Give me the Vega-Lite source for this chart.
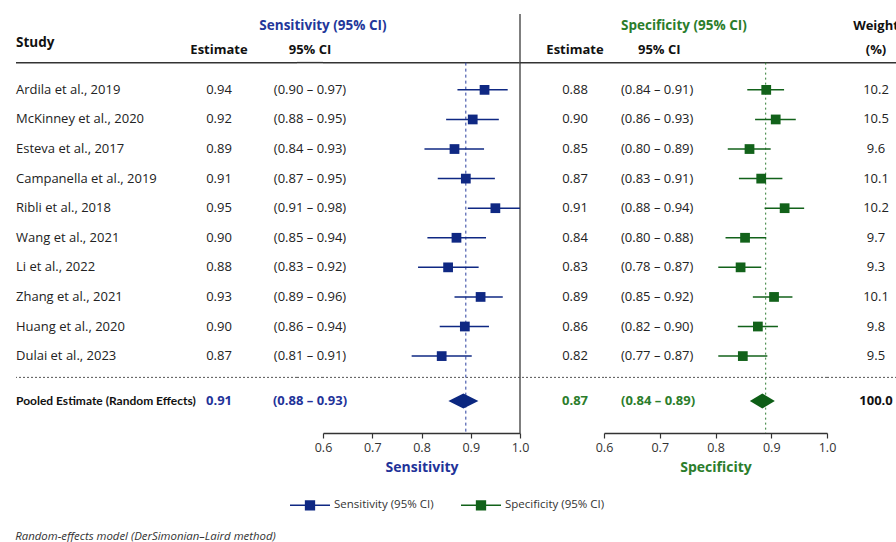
{
"$schema": "https://vega.github.io/schema/vega-lite/v6.json",
"padding": {"left": 15, "top": 13, "right": 0, "bottom": 0},
"spacing": 0,
"bounds": "flush",
"title": {"text": "Random-effects model (DerSimonian–Laird method)", "orient": "bottom", "anchor": "start", "fontSize": 11.4, "fontStyle": "italic", "fontWeight": "normal", "color": "#333", "offset": 18},
"datasets": {
"rows": [
{"study": "Ardila et al., 2019", "row": 1, "pooled": false, "sens": "0.94", "sensci": "(0.90 – 0.97)", "spec": "0.88", "specci": "(0.84 – 0.91)", "weight": "10.2", "s_pt": 0.928, "s_lo": 0.873, "s_hi": 0.975, "p_pt": 0.891, "p_lo": 0.857, "p_hi": 0.923},
{"study": "McKinney et al., 2020", "row": 2, "pooled": false, "sens": "0.92", "sensci": "(0.88 – 0.95)", "spec": "0.90", "specci": "(0.86 – 0.93)", "weight": "10.5", "s_pt": 0.904, "s_lo": 0.85, "s_hi": 0.957, "p_pt": 0.908, "p_lo": 0.871, "p_hi": 0.944},
{"study": "Esteva et al., 2017", "row": 3, "pooled": false, "sens": "0.89", "sensci": "(0.84 – 0.93)", "spec": "0.85", "specci": "(0.80 – 0.89)", "weight": "9.6", "s_pt": 0.867, "s_lo": 0.806, "s_hi": 0.927, "p_pt": 0.861, "p_lo": 0.822, "p_hi": 0.899},
{"study": "Campanella et al., 2019", "row": 4, "pooled": false, "sens": "0.91", "sensci": "(0.87 – 0.95)", "spec": "0.87", "specci": "(0.83 – 0.91)", "weight": "10.1", "s_pt": 0.89, "s_lo": 0.833, "s_hi": 0.949, "p_pt": 0.882, "p_lo": 0.842, "p_hi": 0.92},
{"study": "Ribli et al., 2018", "row": 5, "pooled": false, "sens": "0.95", "sensci": "(0.91 – 0.98)", "spec": "0.91", "specci": "(0.88 – 0.94)", "weight": "10.2", "s_pt": 0.95, "s_lo": 0.894, "s_hi": 1.0, "p_pt": 0.924, "p_lo": 0.888, "p_hi": 0.959},
{"study": "Wang et al., 2021", "row": 6, "pooled": false, "sens": "0.90", "sensci": "(0.85 – 0.94)", "spec": "0.84", "specci": "(0.80 – 0.88)", "weight": "9.7", "s_pt": 0.871, "s_lo": 0.812, "s_hi": 0.931, "p_pt": 0.853, "p_lo": 0.818, "p_hi": 0.891},
{"study": "Li et al., 2022", "row": 7, "pooled": false, "sens": "0.88", "sensci": "(0.83 – 0.92)", "spec": "0.83", "specci": "(0.78 – 0.87)", "weight": "9.3", "s_pt": 0.854, "s_lo": 0.793, "s_hi": 0.916, "p_pt": 0.845, "p_lo": 0.805, "p_hi": 0.882},
{"study": "Zhang et al., 2021", "row": 8, "pooled": false, "sens": "0.93", "sensci": "(0.89 – 0.96)", "spec": "0.89", "specci": "(0.85 – 0.92)", "weight": "10.1", "s_pt": 0.92, "s_lo": 0.867, "s_hi": 0.965, "p_pt": 0.905, "p_lo": 0.867, "p_hi": 0.938},
{"study": "Huang et al., 2020", "row": 9, "pooled": false, "sens": "0.90", "sensci": "(0.86 – 0.94)", "spec": "0.86", "specci": "(0.82 – 0.90)", "weight": "9.8", "s_pt": 0.888, "s_lo": 0.837, "s_hi": 0.937, "p_pt": 0.876, "p_lo": 0.84, "p_hi": 0.912},
{"study": "Dulai et al., 2023", "row": 10, "pooled": false, "sens": "0.87", "sensci": "(0.81 – 0.91)", "spec": "0.82", "specci": "(0.77 – 0.87)", "weight": "9.5", "s_pt": 0.841, "s_lo": 0.78, "s_hi": 0.902, "p_pt": 0.849, "p_lo": 0.805, "p_hi": 0.893},
{"study": "Pooled Estimate (Random Effects)", "row": 11.52, "pooled": true, "sens": "0.91", "sensci": "(0.88 – 0.93)", "spec": "0.87", "specci": "(0.84 – 0.89)", "weight": "100.0", "s_pt": 0.885, "s_lo": 0.854, "s_hi": 0.915, "p_pt": 0.884, "p_lo": 0.861, "p_hi": 0.906}
]
},
"hconcat": [
{
"width": 125, "height": 419,
"layer": [
{"data": {"values": [{}]}, "mark": {"type": "text", "text": "Study", "fontWeight": "bold", "fontSize": 13.5, "align": "left", "color": "#111"},
 "encoding": {"x": {"datum": 0, "type": "quantitative", "scale": {"domain": [0, 1]}, "axis": null}, "y": {"datum": -0.6, "type": "quantitative", "scale": {"domain": [-1.565, 12.6], "reverse": true, "nice": false, "zero": false}, "axis": null}}},
{"data": {"values": [{}]}, "mark": {"type": "rule", "color": "#333", "strokeWidth": 1.5}, "encoding": {"y": {"datum": 0.079, "type": "quantitative", "axis": null}}},
{"data": {"values": [{}]}, "mark": {"type": "rule", "color": "#555", "strokeWidth": 1, "strokeDash": [2, 2]}, "encoding": {"y": {"datum": 10.72, "type": "quantitative", "axis": null}}},
{"data": {"name": "rows"}, "transform": [{"filter": "!datum.pooled"}], "mark": {"type": "text", "align": "left", "fontSize": 13, "color": "#222"},
 "encoding": {"x": {"datum": 0, "type": "quantitative", "axis": null}, "y": {"field": "row", "type": "quantitative", "axis": null}, "text": {"field": "study"}}},
{"data": {"name": "rows"}, "transform": [{"filter": "datum.pooled"}], "mark": {"type": "text", "align": "left", "fontSize": 12, "fontWeight": "bold", "font": "Lato", "color": "#111"},
 "encoding": {"x": {"datum": 0, "type": "quantitative", "axis": null}, "y": {"field": "row", "type": "quantitative", "axis": null}, "text": {"field": "study"}}}
]
},
{
"width": 156, "height": 419,
"layer": [
{"data": {"values": [{}]}, "mark": {"type": "text", "text": "Estimate", "fontWeight": "bold", "fontSize": 13, "color": "#111"},
 "encoding": {"y": {"datum": -0.35, "type": "quantitative", "scale": {"domain": [-1.565, 12.6], "reverse": true, "nice": false, "zero": false}, "axis": null}}},
{"data": {"values": [{}]}, "mark": {"type": "rule", "color": "#333", "strokeWidth": 1.5}, "encoding": {"y": {"datum": 0.079, "type": "quantitative", "axis": null}}},
{"data": {"values": [{}]}, "mark": {"type": "rule", "color": "#555", "strokeWidth": 1, "strokeDash": [2, 2]}, "encoding": {"y": {"datum": 10.72, "type": "quantitative", "axis": null}}},
{"data": {"name": "rows"}, "transform": [{"filter": "!datum.pooled"}], "mark": {"type": "text", "fontSize": 13, "color": "#222"},
 "encoding": {"y": {"field": "row", "type": "quantitative", "axis": null}, "text": {"field": "sens"}}},
{"data": {"name": "rows"}, "transform": [{"filter": "datum.pooled"}], "mark": {"type": "text", "fontSize": 13, "fontWeight": "bold", "color": "#1f3399"},
 "encoding": {"y": {"field": "row", "type": "quantitative", "axis": null}, "text": {"field": "sens"}}}
]
},
{
"width": 26, "height": 419,
"layer": [
{"data": {"values": [{}]}, "mark": {"type": "text", "text": "95% CI", "fontWeight": "bold", "fontSize": 13, "color": "#111"},
 "encoding": {"y": {"datum": -0.35, "type": "quantitative", "scale": {"domain": [-1.565, 12.6], "reverse": true, "nice": false, "zero": false}, "axis": null}}},
{"data": {"values": [{}]}, "mark": {"type": "rule", "color": "#333", "strokeWidth": 1.5}, "encoding": {"y": {"datum": 0.079, "type": "quantitative", "axis": null}}},
{"data": {"values": [{}]}, "mark": {"type": "rule", "color": "#555", "strokeWidth": 1, "strokeDash": [2, 2]}, "encoding": {"y": {"datum": 10.72, "type": "quantitative", "axis": null}}},
{"data": {"name": "rows"}, "transform": [{"filter": "!datum.pooled"}], "mark": {"type": "text", "fontSize": 13, "color": "#222"},
 "encoding": {"y": {"field": "row", "type": "quantitative", "axis": null}, "text": {"field": "sensci"}}},
{"data": {"name": "rows"}, "transform": [{"filter": "datum.pooled"}], "mark": {"type": "text", "fontSize": 13, "fontWeight": "bold", "color": "#1f3399"},
 "encoding": {"y": {"field": "row", "type": "quantitative", "axis": null}, "text": {"field": "sensci"}}}
]
},
{
"width": 197, "height": 419,
"layer": [
{"data": {"values": [{}]}, "mark": {"type": "text", "text": "Sensitivity (95% CI)", "fontWeight": "bold", "fontSize": 13.5, "color": "#23379a"},
 "encoding": {"x": {"datum": 0.6, "type": "quantitative", "title": "Sensitivity"}, "y": {"datum": -1.16, "type": "quantitative", "scale": {"domain": [-1.565, 12.6], "reverse": true, "nice": false, "zero": false}, "axis": null}}},
{"data": {"values": [{}]}, "mark": {"type": "rule", "color": "#333", "strokeWidth": 1.5}, "encoding": {"y": {"datum": 0.079, "type": "quantitative", "axis": null}}},
{"data": {"values": [{}]}, "mark": {"type": "rule", "color": "#555", "strokeWidth": 1, "strokeDash": [2, 2]}, "encoding": {"y": {"datum": 10.72, "type": "quantitative", "axis": null}}},
{"data": {"values": [{}]}, "mark": {"type": "rule", "color": "#555", "strokeWidth": 1.5}, "encoding": {"x": {"datum": 1.0, "type": "quantitative", "title": "Sensitivity"}}},
{"data": {"values": [{}]}, "mark": {"type": "rule", "color": "#2a3f9f", "strokeWidth": 1, "strokeDash": [3, 3]},
 "encoding": {"x": {"datum": 0.89, "type": "quantitative", "title": "Sensitivity"}, "y": {"datum": 0.079, "type": "quantitative", "axis": null}, "y2": {"datum": 12.6}}},
{"data": {"name": "rows"}, "transform": [{"filter": "!datum.pooled"}], "mark": {"type": "rule", "strokeWidth": 1.5},
 "encoding": {"x": {"field": "s_lo", "type": "quantitative", "title": "Sensitivity", "scale": {"domain": [0.6, 1.0], "nice": false, "zero": false}, "axis": {"titleColor": "#1f3399", "values": [0.6, 0.7, 0.8, 0.9, 1.0], "format": ".1f"}}, "x2": {"field": "s_hi"}, "y": {"field": "row", "type": "quantitative", "axis": null},
  "color": {"datum": "Sensitivity (95% CI)", "scale": {"domain": ["Sensitivity (95% CI)", "Specificity (95% CI)"], "range": ["#0f2883", "#12621a"]},
   "legend": {"orient": "none", "legendX": 273, "legendY": 470, "direction": "horizontal", "title": null, "symbolType": "M-1,0H1M-0.22,-0.22H0.22V0.22H-0.22Z", "symbolSize": 1600, "symbolStrokeWidth": 1.5, "labelFontSize": 11.5, "labelColor": "#333", "columnPadding": 24, "labelOffset": 3}}}},
{"data": {"name": "rows"}, "transform": [{"filter": "!datum.pooled"}], "mark": {"type": "point", "shape": "square", "filled": true, "size": 95, "opacity": 1},
 "encoding": {"x": {"field": "s_pt", "type": "quantitative", "title": "Sensitivity"}, "y": {"field": "row", "type": "quantitative", "axis": null},
  "color": {"datum": "Sensitivity (95% CI)",
   "legend": {"orient": "none", "legendX": 273, "legendY": 470, "direction": "horizontal", "title": null, "symbolType": "M-1,0H1M-0.22,-0.22H0.22V0.22H-0.22Z", "symbolSize": 1600, "symbolStrokeWidth": 1.5, "labelFontSize": 11.5, "labelColor": "#333", "columnPadding": 24, "labelOffset": 3}}}},
{"data": {"name": "rows"}, "transform": [{"filter": "datum.pooled"}], "mark": {"type": "point", "shape": "M-1,0L0,-0.5L1,0L0,0.5Z", "filled": true, "size": 900, "opacity": 1, "color": "#0b2780"},
 "encoding": {"x": {"field": "s_pt", "type": "quantitative", "title": "Sensitivity"}, "y": {"field": "row", "type": "quantitative", "axis": null}}}
]
},
{
"width": 84, "height": 419,
"layer": [
{"data": {"values": [{}]}, "mark": {"type": "text", "text": "Estimate", "fontWeight": "bold", "fontSize": 13, "color": "#111", "dx": 13},
 "encoding": {"y": {"datum": -0.35, "type": "quantitative", "scale": {"domain": [-1.565, 12.6], "reverse": true, "nice": false, "zero": false}, "axis": null}}},
{"data": {"values": [{}]}, "mark": {"type": "text", "text": "95% CI", "fontWeight": "bold", "fontSize": 13, "color": "#111", "align": "left", "dx": 34},
 "encoding": {"x": {"datum": 1, "type": "quantitative", "scale": {"domain": [0, 1]}, "axis": null}, "y": {"datum": -0.35, "type": "quantitative", "axis": null}}},
{"data": {"values": [{}]}, "mark": {"type": "text", "text": "Specificity (95% CI)", "fontWeight": "bold", "fontSize": 13.5, "color": "#2b7d2b", "align": "left", "dx": 17},
 "encoding": {"x": {"datum": 1, "type": "quantitative", "axis": null}, "y": {"datum": -1.16, "type": "quantitative", "axis": null}}},
{"data": {"values": [{}]}, "mark": {"type": "rule", "color": "#333", "strokeWidth": 1.5}, "encoding": {"y": {"datum": 0.079, "type": "quantitative", "axis": null}}},
{"data": {"values": [{}]}, "mark": {"type": "rule", "color": "#555", "strokeWidth": 1, "strokeDash": [2, 2]}, "encoding": {"y": {"datum": 10.72, "type": "quantitative", "axis": null}}},
{"data": {"name": "rows"}, "transform": [{"filter": "!datum.pooled"}], "mark": {"type": "text", "fontSize": 13, "color": "#222", "dx": 13},
 "encoding": {"y": {"field": "row", "type": "quantitative", "axis": null}, "text": {"field": "spec"}}},
{"data": {"name": "rows"}, "transform": [{"filter": "datum.pooled"}], "mark": {"type": "text", "fontSize": 13, "fontWeight": "bold", "color": "#2b7d2b", "dx": 13},
 "encoding": {"y": {"field": "row", "type": "quantitative", "axis": null}, "text": {"field": "spec"}}},
{"data": {"name": "rows"}, "transform": [{"filter": "!datum.pooled"}], "mark": {"type": "text", "fontSize": 13, "color": "#222", "align": "left", "dx": 17},
 "encoding": {"x": {"datum": 1, "type": "quantitative", "axis": null}, "y": {"field": "row", "type": "quantitative", "axis": null}, "text": {"field": "specci"}}},
{"data": {"name": "rows"}, "transform": [{"filter": "datum.pooled"}], "mark": {"type": "text", "fontSize": 13, "fontWeight": "bold", "color": "#2b7d2b", "align": "left", "dx": 17},
 "encoding": {"x": {"datum": 1, "type": "quantitative", "axis": null}, "y": {"field": "row", "type": "quantitative", "axis": null}, "text": {"field": "specci"}}}
]
},
{
"width": 223, "height": 419,
"layer": [
{"data": {"values": [{}]}, "mark": {"type": "rule", "color": "#333", "strokeWidth": 1.5}, "encoding": {"y": {"datum": 0.079, "type": "quantitative", "scale": {"domain": [-1.565, 12.6], "reverse": true, "nice": false, "zero": false}, "axis": null}}},
{"data": {"values": [{}]}, "mark": {"type": "rule", "color": "#555", "strokeWidth": 1, "strokeDash": [2, 2]}, "encoding": {"y": {"datum": 10.72, "type": "quantitative", "axis": null}}},
{"data": {"values": [{}]}, "mark": {"type": "rule", "color": "#2e7d32", "strokeWidth": 1, "strokeDash": [2, 3]},
 "encoding": {"x": {"datum": 0.89, "type": "quantitative", "title": "Specificity"}, "y": {"datum": 0.079, "type": "quantitative", "axis": null}, "y2": {"datum": 12.6}}},
{"data": {"name": "rows"}, "transform": [{"filter": "!datum.pooled"}], "mark": {"type": "rule", "strokeWidth": 1.5},
 "encoding": {"x": {"field": "p_lo", "type": "quantitative", "title": "Specificity", "scale": {"domain": [0.6, 1.0], "nice": false, "zero": false}, "axis": {"titleColor": "#2b7d2b", "values": [0.6, 0.7, 0.8, 0.9, 1.0], "format": ".1f"}}, "x2": {"field": "p_hi"}, "y": {"field": "row", "type": "quantitative", "axis": null},
  "color": {"datum": "Specificity (95% CI)",
   "legend": {"orient": "none", "legendX": 273, "legendY": 470, "direction": "horizontal", "title": null, "symbolType": "M-1,0H1M-0.22,-0.22H0.22V0.22H-0.22Z", "symbolSize": 1600, "symbolStrokeWidth": 1.5, "labelFontSize": 11.5, "labelColor": "#333", "columnPadding": 24, "labelOffset": 3}}}},
{"data": {"name": "rows"}, "transform": [{"filter": "!datum.pooled"}], "mark": {"type": "point", "shape": "square", "filled": true, "size": 95, "opacity": 1},
 "encoding": {"x": {"field": "p_pt", "type": "quantitative", "title": "Specificity"}, "y": {"field": "row", "type": "quantitative", "axis": null},
  "color": {"datum": "Specificity (95% CI)",
   "legend": {"orient": "none", "legendX": 273, "legendY": 470, "direction": "horizontal", "title": null, "symbolType": "M-1,0H1M-0.22,-0.22H0.22V0.22H-0.22Z", "symbolSize": 1600, "symbolStrokeWidth": 1.5, "labelFontSize": 11.5, "labelColor": "#333", "columnPadding": 24, "labelOffset": 3}}}},
{"data": {"name": "rows"}, "transform": [{"filter": "datum.pooled"}], "mark": {"type": "point", "shape": "M-1,0L0,-0.6L1,0L0,0.6Z", "filled": true, "size": 625, "opacity": 1, "color": "#0d5e16"},
 "encoding": {"x": {"field": "p_pt", "type": "quantitative", "title": "Specificity"}, "y": {"field": "row", "type": "quantitative", "axis": null}}}
]
},
{
"width": 98, "height": 419,
"layer": [
{"data": {"values": [{}]}, "mark": {"type": "text", "text": "Weight", "fontWeight": "bold", "fontSize": 13, "color": "#111"},
 "encoding": {"y": {"datum": -1.16, "type": "quantitative", "scale": {"domain": [-1.565, 12.6], "reverse": true, "nice": false, "zero": false}, "axis": null}}},
{"data": {"values": [{}]}, "mark": {"type": "text", "text": "(%)", "fontWeight": "bold", "fontSize": 13, "color": "#111"},
 "encoding": {"y": {"datum": -0.35, "type": "quantitative", "axis": null}}},
{"data": {"values": [{}]}, "mark": {"type": "rule", "color": "#333", "strokeWidth": 1.5}, "encoding": {"y": {"datum": 0.079, "type": "quantitative", "axis": null}}},
{"data": {"values": [{}]}, "mark": {"type": "rule", "color": "#555", "strokeWidth": 1, "strokeDash": [2, 2]}, "encoding": {"y": {"datum": 10.72, "type": "quantitative", "axis": null}}},
{"data": {"name": "rows"}, "transform": [{"filter": "!datum.pooled"}], "mark": {"type": "text", "fontSize": 13, "color": "#222"},
 "encoding": {"y": {"field": "row", "type": "quantitative", "axis": null}, "text": {"field": "weight"}}},
{"data": {"name": "rows"}, "transform": [{"filter": "datum.pooled"}], "mark": {"type": "text", "fontSize": 13, "fontWeight": "bold", "color": "#111"},
 "encoding": {"y": {"field": "row", "type": "quantitative", "axis": null}, "text": {"field": "weight"}}}
]
}
],
"config": {
"font": "Open Sans",
"view": {"stroke": null},
"concat": {"spacing": 0},
"axisX": {"domainColor": "#333", "domainWidth": 1.5, "tickColor": "#333", "tickWidth": 1.2, "tickSize": 5, "labelFontSize": 12.5, "labelColor": "#333", "labelPadding": 3, "titleFontSize": 14, "titleFontWeight": "bold", "titlePadding": 7, "grid": false, "labelFlush": false}
}
}
